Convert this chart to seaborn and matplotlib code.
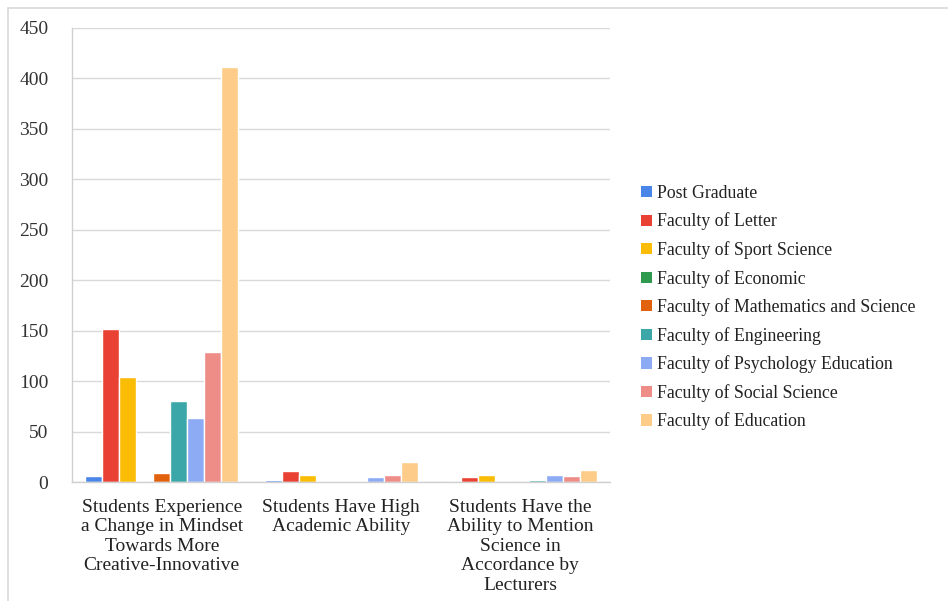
import matplotlib
matplotlib.use("Agg")
import matplotlib.pyplot as plt
from matplotlib.lines import Line2D
from matplotlib.patches import Patch
import seaborn as sns
import pandas as pd

categories = [
    "Students Experience\na Change in Mindset\nTowards More\nCreative-Innovative",
    "Students Have High\nAcademic Ability",
    "Students Have the\nAbility to Mention\nScience in\nAccordance by\nLecturers",
]
faculties = [
    "Post Graduate",
    "Faculty of Letter",
    "Faculty of Sport Science",
    "Faculty of Economic",
    "Faculty of Mathematics and Science",
    "Faculty of Engineering",
    "Faculty of Psychology Education",
    "Faculty of Social Science",
    "Faculty of Education",
]
post_graduate = [6, 2, 0]
letter = [152, 11, 5]
sport_science = [104, 7, 7]
economic = [0, 1, 0]
math_science = [9, 1, 0]
engineering = [80, 1, 2]
psychology_education = [63, 5, 7]
social_science = [129, 7, 6]
education = [411, 20, 12]

colors = ["#4A86E8", "#E94235", "#FBBC05", "#2E9A4E", "#E2610C",
          "#3BA7A9", "#8DABF4", "#EE8C87", "#FDCC88"]

series = [post_graduate, letter, sport_science, economic, math_science,
          engineering, psychology_education, social_science, education]
rows = []
for fac, vals in zip(faculties, series):
    for cat, v in zip(categories, vals):
        rows.append({"category": cat, "faculty": fac, "count": v})
df = pd.DataFrame(rows)

sns.set_style("white")
plt.rcParams["font.family"] = ["Liberation Serif", "DejaVu Serif"]

fig = plt.figure(figsize=(9.48, 6.01), dpi=100)
ax = fig.add_axes([0.076, 0.198, 0.5675, 0.7556])

sns.barplot(data=df, x="category", y="count", hue="faculty",
            order=categories, hue_order=faculties, palette=colors,
            width=0.853, saturation=1, ax=ax, legend=False)

ax.set_ylim(0, 450)
ax.set_yticks(range(0, 451, 50))
ax.set_xlim(-0.5, 2.5)
ax.yaxis.grid(True, color="#d9d9d9", linewidth=1)
ax.set_axisbelow(True)
ax.set_xlabel("")
ax.set_ylabel("")
for side in ["top", "right"]:
    ax.spines[side].set_visible(False)
for side in ["left", "bottom"]:
    ax.spines[side].set_color("#d0d0d0")
    ax.spines[side].set_linewidth(1)
ax.tick_params(axis="y", length=0, pad=17, labelsize=14, labelcolor="#333333")
ax.tick_params(axis="x", length=0, pad=12, labelsize=14, labelcolor="#222222")
for lbl in ax.get_xticklabels():
    lbl.set_linespacing(1.2)

handles = [Patch(facecolor=c, edgecolor="none") for c in colors]
fig.legend(handles, faculties, loc="upper left",
           bbox_to_anchor=(0.6595, 0.719), frameon=False,
           handlelength=0.6, handleheight=0.6, handletextpad=0.3,
           labelspacing=0.6, fontsize=12.8, labelcolor="#222222")

# outer frame edges along top and left
fig.add_artist(Line2D([0.0085, 1.0], [0.987, 0.987], color="#d9d9d9",
                      linewidth=1.2, transform=fig.transFigure))
fig.add_artist(Line2D([0.0085, 0.0085], [0.0, 0.987], color="#d9d9d9",
                      linewidth=1.2, transform=fig.transFigure))

fig.savefig("out.png", dpi=100)
